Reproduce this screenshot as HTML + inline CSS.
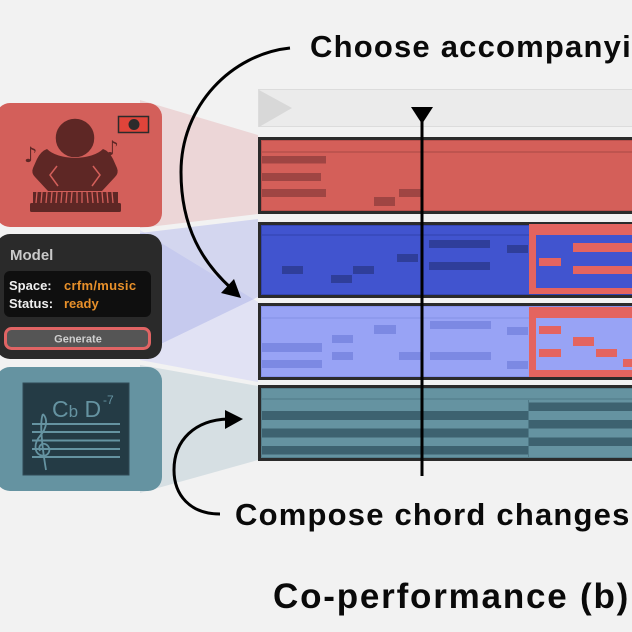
<!DOCTYPE html>
<html><head><meta charset="utf-8"><style>
html,body{margin:0;padding:0;background:#f2f2f2;overflow:hidden;}
svg{display:block;}
</style></head><body>
<svg width="632" height="632" viewBox="0 0 632 632" xmlns="http://www.w3.org/2000/svg">
<defs>
<clipPath id="fa"><polygon points="140,233 258,219 258,297 140,354"/></clipPath>
</defs>
<rect width="632" height="632" fill="#f2f2f2"/>

<!-- fans -->
<polygon points="140,100 258,135 258,214 140,228" fill="#ecd6d7"/>
<polygon points="140,233 258,219 258,297 140,354" fill="#d3d6ef"/>
<polygon points="140,230 258,302 258,382 140,360" fill="#e1e2f4"/>
<polygon points="140,230 258,302 258,382 140,360" fill="#c6caee" clip-path="url(#fa)"/>
<polygon points="140,365 258,386 258,460 140,493" fill="#d6dfe3"/>

<!-- red card -->
<rect x="-4" y="103" width="166" height="124" rx="14" fill="#d35f5a"/>
<circle cx="75" cy="138" r="20" fill="#5e2725" stroke="#d35f5a" stroke-width="1.5"/>
<path d="M47,149 Q41,151 37,159 L33,168 Q31,173 35,177 L48,191 L102,191 L115,177 Q119,173 117,168 L113,159 Q109,151 103,149 Q95,157 75,158 Q55,157 47,149 Z" fill="#5e2725"/>
<path d="M57,166 L50,175 L58,186 M93,166 L100,175 L92,186" stroke="#d35f5a" stroke-width="1.5" fill="none"/>
<rect x="33" y="192" width="85" height="11" fill="#5e2725"/>
<g stroke="#d35f5a" stroke-width="1.3">
<line x1="37" y1="192" x2="36" y2="203"/><line x1="42" y1="192" x2="41" y2="203"/><line x1="47" y1="192" x2="46" y2="203"/><line x1="52" y1="192" x2="51" y2="203"/><line x1="57" y1="192" x2="56" y2="203"/><line x1="62" y1="192" x2="61" y2="203"/><line x1="67" y1="192" x2="66" y2="203"/><line x1="72" y1="192" x2="71" y2="203"/><line x1="77" y1="192" x2="77" y2="203"/><line x1="82" y1="192" x2="82" y2="203"/><line x1="87" y1="192" x2="88" y2="203"/><line x1="92" y1="192" x2="93" y2="203"/><line x1="97" y1="192" x2="98" y2="203"/><line x1="102" y1="192" x2="103" y2="203"/><line x1="107" y1="192" x2="108" y2="203"/><line x1="112" y1="192" x2="113" y2="203"/>
</g>
<rect x="30" y="203" width="91" height="9" rx="1.5" fill="#5e2725"/>
<text x="24" y="162" font-family="DejaVu Sans, sans-serif" font-size="21" fill="#5e2725">♪</text>
<text x="106" y="155" font-family="DejaVu Sans, sans-serif" font-size="20" fill="#5e2725">♪</text>
<rect x="118.5" y="116.5" width="30" height="16" fill="#e0443a" stroke="#2b2b2b" stroke-width="1.5"/>
<circle cx="134" cy="124.5" r="5.5" fill="#2b2b2b"/>

<!-- model card -->
<rect x="-4" y="234" width="166" height="125" rx="14" fill="#2a2a2a"/>
<text x="10" y="260" font-family="Liberation Sans, sans-serif" font-weight="bold" font-size="15" fill="#c9c9c9">Model</text>
<rect x="4" y="271" width="147" height="46" rx="6" fill="#0f0f0f"/>
<text x="9" y="290" font-family="Liberation Sans, sans-serif" font-weight="bold" font-size="13" fill="#f0f0f0">Space:</text>
<text x="64" y="290" font-family="Liberation Sans, sans-serif" font-weight="bold" font-size="13" fill="#e8902a" style="letter-spacing:0.3px">crfm/music</text>
<text x="9" y="308" font-family="Liberation Sans, sans-serif" font-weight="bold" font-size="13" fill="#f0f0f0">Status:</text>
<text x="64" y="308" font-family="Liberation Sans, sans-serif" font-weight="bold" font-size="13" fill="#e8902a">ready</text>
<rect x="5.5" y="328.5" width="144" height="20" rx="6" fill="#555555" stroke="#e06464" stroke-width="3"/>
<text x="78" y="342.5" text-anchor="middle" font-family="Liberation Sans, sans-serif" font-weight="bold" font-size="11" fill="#cfcfcf">Generate</text>

<!-- teal card -->
<rect x="-4" y="367" width="166" height="124" rx="14" fill="#6593a1"/>
<rect x="23" y="383" width="106" height="92" fill="#243b45" stroke="#2f4a55" stroke-width="1"/>
<g stroke="#6593a1" stroke-width="2">
<line x1="32" y1="424" x2="120" y2="424"/><line x1="32" y1="432" x2="120" y2="432"/><line x1="32" y1="440.5" x2="120" y2="440.5"/><line x1="32" y1="449" x2="120" y2="449"/><line x1="32" y1="457" x2="120" y2="457"/>
</g>
<path d="M43,414 C48,419 47,428 40,436 C34,443 34,452 40,455 C47,458 52,451 48,446 C44,441 37,445 40,451 M43,414 C40,420 41,440 46,470" stroke="#6593a1" stroke-width="1.8" fill="none"/>
<text x="52" y="417" font-family="Liberation Sans, sans-serif" font-size="23" fill="#6593a1">C<tspan font-size="17">b</tspan> D</text>
<text x="103" y="404" font-family="Liberation Sans, sans-serif" font-size="12" fill="#6593a1">-7</text>

<!-- top bar -->
<rect x="258.5" y="89.5" width="400" height="37" fill="#ebebeb" stroke="#dcdcdc" stroke-width="1"/>
<polygon points="259,90 292,108 259,127" fill="#d8d8d8"/>

<!-- track 1 red -->
<rect x="258" y="137" width="400" height="77" fill="#2b2b2b"/>
<rect x="261.5" y="140.5" width="400" height="70" fill="#d45f59" stroke="#b84f4b" stroke-width="1"/>
<line x1="262" y1="152" x2="640" y2="152" stroke="#a84845" stroke-width="1"/>
<g fill="#9f4543">
<rect x="262" y="156" width="64" height="7.5"/>
<rect x="262" y="173" width="59" height="8"/>
<rect x="262" y="189" width="64" height="8"/>
<rect x="374" y="197" width="21" height="9"/>
<rect x="399" y="189" width="22" height="8"/>
</g>

<!-- track 2 dark blue -->
<rect x="258" y="222" width="400" height="76" fill="#2b2b2b"/>
<rect x="261.5" y="225.5" width="400" height="69" fill="#4154cf" stroke="#3344b0" stroke-width="1"/>
<line x1="262" y1="235" x2="640" y2="235" stroke="#3142ad" stroke-width="1"/>
<g fill="#2f3e9a">
<rect x="282" y="266" width="21" height="8"/>
<rect x="331" y="275" width="21" height="8"/>
<rect x="353" y="266" width="21" height="8"/>
<rect x="397" y="254" width="21" height="8"/>
<rect x="429" y="240" width="61" height="8"/>
<rect x="429" y="262" width="61" height="8"/>
<rect x="507" y="245" width="21" height="8"/>
</g>
<rect x="529" y="224" width="120" height="70" fill="#e4645f"/>
<rect x="536" y="235" width="120" height="53" fill="#4154cf"/>
<g fill="#e4645f">
<rect x="539" y="258" width="22" height="8"/>
<rect x="573" y="243" width="70" height="9"/>
<rect x="573" y="266" width="70" height="8"/>
</g>

<!-- track 3 light blue -->
<rect x="258" y="303" width="400" height="77" fill="#2b2b2b"/>
<rect x="261.5" y="306.5" width="400" height="70" fill="#98a3f5" stroke="#8893ea" stroke-width="1"/>
<line x1="262" y1="318" x2="640" y2="318" stroke="#8590e5" stroke-width="1"/>
<g fill="#7c89e3">
<rect x="374" y="325" width="22" height="9"/>
<rect x="332" y="335" width="21" height="8"/>
<rect x="262" y="343" width="60" height="9"/>
<rect x="332" y="352" width="21" height="8"/>
<rect x="399" y="352" width="22" height="8"/>
<rect x="262" y="360" width="60" height="8"/>
<rect x="430" y="321" width="61" height="8"/>
<rect x="430" y="352" width="61" height="8"/>
<rect x="507" y="327" width="21" height="8"/>
<rect x="507" y="361" width="21" height="8"/>
</g>
<rect x="529" y="307" width="120" height="70" fill="#e4645f"/>
<rect x="536" y="318" width="120" height="52" fill="#98a3f5"/>
<g fill="#e4645f">
<rect x="539" y="326" width="22" height="8"/>
<rect x="573" y="337" width="21" height="9"/>
<rect x="539" y="349" width="22" height="8"/>
<rect x="596" y="349" width="21" height="8"/>
<rect x="623" y="359" width="20" height="8"/>
</g>

<!-- track 4 teal -->
<rect x="258" y="385" width="400" height="76" fill="#2b2b2b"/>
<rect x="261.5" y="388.5" width="400" height="69" fill="#6593a1" stroke="#557f8c" stroke-width="1"/>
<line x1="262" y1="399" x2="640" y2="399" stroke="#4f7987" stroke-width="1"/>
<g fill="#3d6270">
<rect x="262" y="411" width="266" height="9"/>
<rect x="262" y="428.5" width="266" height="9"/>
<rect x="262" y="446" width="266" height="8.5"/>
<rect x="529" y="402.5" width="120" height="8.5"/>
<rect x="529" y="420" width="120" height="8.5"/>
<rect x="529" y="437.5" width="120" height="8.5"/>
</g>
<line x1="528.5" y1="400" x2="528.5" y2="457" stroke="#4f7987" stroke-width="1"/>

<!-- playhead -->
<line x1="422" y1="112" x2="422" y2="476" stroke="#000" stroke-width="3"/>
<polygon points="411,107 433,107 422,124" fill="#000"/>

<!-- arrows -->
<path d="M290,48 C232,54 181,105 181,172 C181,228 203,263 232,289" stroke="#000" stroke-width="3" fill="none"/>
<polygon points="241,298 221,293 234,279" fill="#000"/>
<path d="M220,514 C190,514 174,495 174,470 C174,440 195,420 228,419" stroke="#000" stroke-width="3" fill="none"/>
<polygon points="243,419 225,410 225,429" fill="#000"/>

<!-- labels -->
<text x="310" y="57" font-family="Liberation Sans, sans-serif" font-weight="bold" font-size="31" fill="#0a0a0a" style="letter-spacing:1.2px">Choose accompanying track</text>
<text x="235" y="525" font-family="Liberation Sans, sans-serif" font-weight="bold" font-size="31" fill="#0a0a0a" style="letter-spacing:1.2px">Compose chord changes</text>
<text x="273" y="608" font-family="Liberation Sans, sans-serif" font-weight="bold" font-size="35" fill="#0a0a0a" style="letter-spacing:1.8px">Co-performance (b)</text>
</svg>
</body></html>
